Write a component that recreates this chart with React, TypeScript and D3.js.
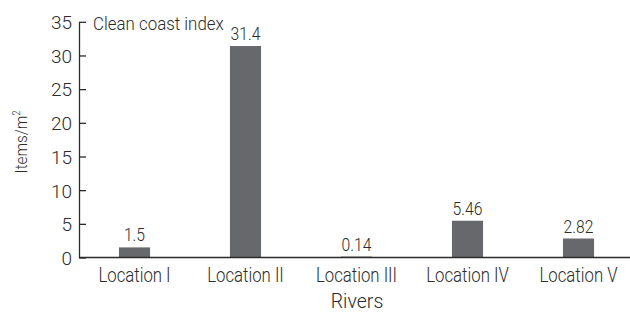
import { useEffect, useRef } from 'react';
import * as d3 from 'd3';

const locations = ['Location I', 'Location II', 'Location III', 'Location IV', 'Location V'];
const itemsPerM2 = [1.5, 31.4, 0.14, 5.46, 2.82];
const valueLabels = ['1.5', '31.4', '0.14', '5.46', '2.82'];
const yTicks = [0, 5, 10, 15, 20, 25, 30, 35];

const W = 630;
const H = 314;
const FONT = "Roboto, 'Open Sans', sans-serif";
const TEXT = '#2b2b2b';
const BAR = '#67686b';

// light face, close to the original's thin type
function styleText(sel: any, size: number) {
  sel
    .attr('font-family', FONT)
    .attr('font-weight', 300)
    .attr('font-size', size)
    .attr('fill', TEXT);
}

export default function App() {
  const ref = useRef<SVGSVGElement>(null);

  useEffect(() => {
    const svg = d3.select(ref.current);
    svg.selectAll('*').remove();

    const x = d3.scaleBand<string>().domain(locations).range([79, 634]).paddingInner(0.72).paddingOuter(0.36);
    const y = d3.scaleLinear().domain([0, 35]).range([257.5, 21.8]);

    // bars
    svg.append('g')
      .selectAll('rect')
      .data(locations)
      .enter()
      .append('rect')
      .attr('x', (d) => x(d)!)
      .attr('width', x.bandwidth())
      .attr('y', (d, i) => y(itemsPerM2[i]))
      .attr('height', (d, i) => y(0) - y(itemsPerM2[i]))
      .attr('fill', BAR);

    // value labels (squeezed a bit, the original type is condensed)
    const vl = svg.append('g')
      .selectAll('text')
      .data(locations)
      .enter()
      .append('text')
      .attr('transform', (d, i) => `translate(${x(d)! + x.bandwidth() / 2},${y(itemsPerM2[i]) - 6}) scale(0.87,1)`)
      .attr('text-anchor', 'middle')
      .text((d, i) => valueLabels[i]);
    styleText(vl, 18);

    // y axis
    const yAxis = svg.append('g')
      .attr('transform', 'translate(79,0)')
      .call(d3.axisRight(y).tickValues(yTicks).tickSize(7).tickSizeOuter(0).tickFormat((d) => String(d)));
    yAxis.select('.domain').attr('stroke', TEXT).attr('stroke-width', 1.3);
    yAxis.selectAll('.tick line').attr('stroke', TEXT).attr('stroke-width', 1.3);
    const yt = yAxis.selectAll('.tick text')
      .attr('x', -7)
      .attr('text-anchor', 'end')
      .attr('dy', '0.36em');
    styleText(yt, 19);

    // x axis
    const xAxis = svg.append('g')
      .attr('transform', `translate(0,${y(0)})`)
      .call(d3.axisBottom(x).tickSize(0).tickPadding(10));
    xAxis.select('.domain').attr('stroke', TEXT).attr('stroke-width', 1.3).attr('d', `M79,0H${W}`);
    const xt = xAxis.selectAll('.tick text')
      .attr('dy', '0.72em')
      .attr('transform', 'scale(0.86,1)');
    styleText(xt, 19.5);

    // annotations
    const note = svg.append('text')
      .attr('transform', 'translate(93,30) scale(0.89,1)')
      .text('Clean coast index');
    styleText(note, 19);

    const riv = svg.append('text')
      .attr('x', 357).attr('y', 308)
      .attr('text-anchor', 'middle')
      .text('Rivers');
    styleText(riv, 19.5);

    const yl = svg.append('text')
      .attr('transform', 'translate(27,142) rotate(-90) scale(0.9,1)')
      .attr('text-anchor', 'middle');
    styleText(yl, 17);
    yl.append('tspan').text('Items/m');
    yl.append('tspan').attr('font-size', 10).attr('dy', -7).text('2');
  }, []);

  return (
    <svg ref={ref} width={W} height={H} style={{ position: 'absolute', left: 0, top: 0, background: '#fff' }} />
  );
}
